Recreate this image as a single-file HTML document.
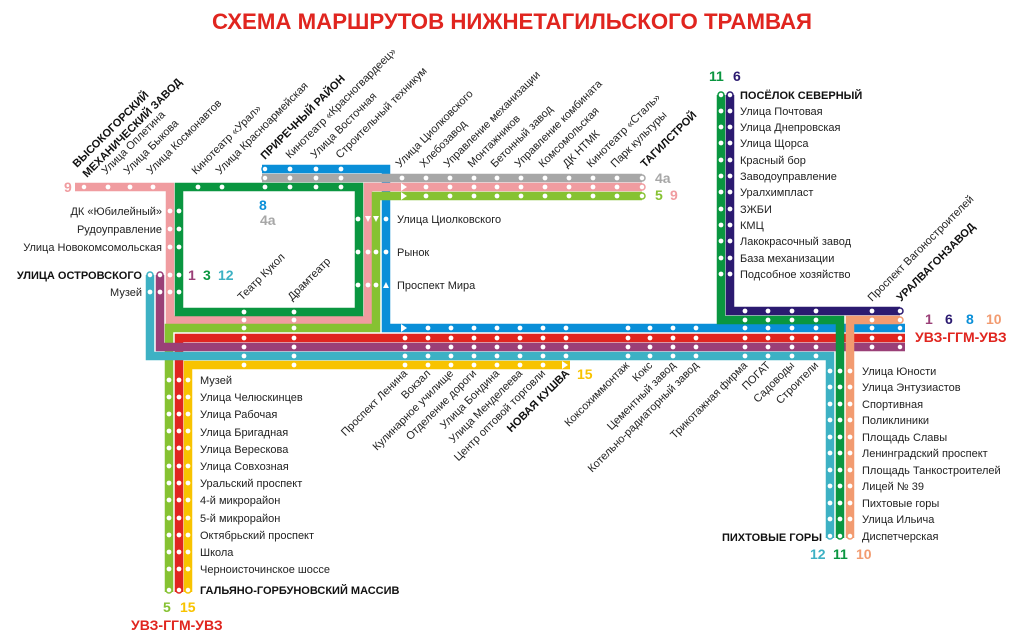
<!DOCTYPE html>
<html><head><meta charset="utf-8"><style>
html,body{margin:0;padding:0;background:#fff;}
svg{display:block;font-family:"Liberation Sans",Arial,sans-serif;}
.t{font-size:11px;fill:#222;}
.b{font-size:11px;font-weight:bold;fill:#111;}
.n{font-size:14px;font-weight:bold;}
</style></head><body>
<svg id="s" width="1023" height="640" viewBox="0 0 1023 640" xmlns="http://www.w3.org/2000/svg">
<rect width="1023" height="640" fill="#fff"/>
<text x="512" y="29" text-anchor="middle" font-size="22" font-weight="bold" fill="#e0251f" textLength="600" lengthAdjust="spacingAndGlyphs">СХЕМА МАРШРУТОВ НИЖНЕТАГИЛЬСКОГО ТРАМВАЯ</text>
<g fill="none" stroke-width="8.5" stroke-linejoin="miter">
<path d="M262,169 H386 V328 H905" stroke="#0a8fd8"/>
<path d="M262,178 H642" stroke="#a7a7a7"/>
<path d="M75,187 H170 V320 H368 V187 H642" stroke="#f09ca0"/>
<path d="M179,187 H359 V312 H179 Z" stroke="#0a9640"/>
<path d="M169,592 V328 H376 V196 H642" stroke="#86c232"/>
<path d="M179,592 V338 H905" stroke="#e0251f"/>
<path d="M160,275 V347 H905" stroke="#9a3f77"/>
<path d="M150,275 V356 H830 V538" stroke="#3db1c4"/>
<path d="M188,592 V365 H570" stroke="#f8c300"/>
<path d="M730,95 V311 H900" stroke="#2b1a70"/>
<path d="M850,538 V320 H900" stroke="#f29b70"/>
<path d="M721,95 V320 H840 V538" stroke="#0a9640"/>
</g>
<g id="dots" fill="#fff"></g>
<g fill="#fff">
<path d="M401,183 l6,4 l-6,4z"/><path d="M401,192 l6,4 l-6,4z"/>
<path d="M401,324 l6,4 l-6,4z"/><path d="M562,361 l6,4 l-6,4z"/>
<path d="M365,216 l6,0 l-3,6z"/><path d="M373,216 l6,0 l-3,6z"/>
<path d="M383,288 l6,0 l-3,-6z"/>
</g>
<g class="t">
<text class="b" transform="translate(77,168) rotate(-45)">ВЫСОКОГОРСКИЙ</text>
<text class="b" transform="translate(87,178) rotate(-45)">МЕХАНИЧЕСКИЙ ЗАВОД</text>
<text transform="translate(106,175) rotate(-45)">Улица Оплетина</text>
<text transform="translate(128,175) rotate(-45)">Улица Быкова</text>
<text transform="translate(151,175) rotate(-45)">Улица Космонавтов</text>
<text transform="translate(196,175) rotate(-45)">Кинотеатр «Урал»</text>
<text transform="translate(220,175) rotate(-45)">Улица Красноармейская</text>
<text class="b" transform="translate(265,160) rotate(-45)">ПРИРЕЧНЫЙ РАЙОН</text>
<text transform="translate(290,159) rotate(-45)">Кинотеатр «Красногвардеец»</text>
<text transform="translate(315,159) rotate(-45)">Улица Восточная</text>
<text transform="translate(340,159) rotate(-45)">Строительный техникум</text>
<text transform="translate(400,168) rotate(-45)">Улица Циолковского</text>
<text transform="translate(424,168) rotate(-45)">Хлебозавод</text>
<text transform="translate(448,168) rotate(-45)">Управление механизации</text>
<text transform="translate(472,168) rotate(-45)">Монтажников</text>
<text transform="translate(495,168) rotate(-45)">Бетонный завод</text>
<text transform="translate(519,168) rotate(-45)">Управление комбината</text>
<text transform="translate(543,168) rotate(-45)">Комсомольская</text>
<text transform="translate(567,168) rotate(-45)">ДК НТМК</text>
<text transform="translate(591,168) rotate(-45)">Кинотеатр «Сталь»</text>
<text transform="translate(615,168) rotate(-45)">Парк культуры</text>
<text class="b" transform="translate(645,168) rotate(-45)">ТАГИЛСТРОЙ</text>
<text transform="translate(872,302) rotate(-45)">Проспект Вагоностроителей</text>
<text class="b" transform="translate(901,302) rotate(-45)">УРАЛВАГОНЗАВОД</text>
<text transform="translate(242,301) rotate(-45)">Театр Кукол</text>
<text transform="translate(292,301) rotate(-45)">Драмтеатр</text>
</g>
<g class="t" text-anchor="end">
<text transform="translate(408,374) rotate(-45)">Проспект Ленина</text>
<text transform="translate(431,374) rotate(-45)">Вокзал</text>
<text transform="translate(454,374) rotate(-45)">Кулинарное училище</text>
<text transform="translate(477,374) rotate(-45)">Отделение дороги</text>
<text transform="translate(500,374) rotate(-45)">Улица Бондина</text>
<text transform="translate(523,374) rotate(-45)">Улица Менделеева</text>
<text transform="translate(546,374) rotate(-45)">Центр оптовой торговли</text>
<text class="b" transform="translate(570,374) rotate(-45)">НОВАЯ КУШВА</text>
<text transform="translate(630,366) rotate(-45)">Коксохиммонтаж</text>
<text transform="translate(653,366) rotate(-45)">Кокс</text>
<text transform="translate(676,366) rotate(-45)">Цементный завод</text>
<text transform="translate(699,366) rotate(-45)">Котельно-радиаторный завод</text>
<text transform="translate(748,366) rotate(-45)">Трикотажная фирма</text>
<text transform="translate(771,366) rotate(-45)">ПОГАТ</text>
<text transform="translate(795,366) rotate(-45)">Садоводы</text>
<text transform="translate(819,366) rotate(-45)">Строители</text>
</g>
<g class="t" text-anchor="end">
<text x="162" y="215">ДК «Юбилейный»</text>
<text x="162" y="233">Рудоуправление</text>
<text x="162" y="251">Улица Новокомсомольская</text>
<text class="b" x="142" y="279">УЛИЦА ОСТРОВСКОГО</text>
<text x="142" y="296">Музей</text>
<text class="b" x="822" y="541">ПИХТОВЫЕ ГОРЫ</text>
</g>
<g class="t">
<text x="397" y="223">Улица Циолковского</text>
<text x="397" y="256">Рынок</text>
<text x="397" y="289">Проспект Мира</text>
<text class="b" x="740" y="99">ПОСЁЛОК СЕВЕРНЫЙ</text>
<text x="740" y="115">Улица Почтовая</text>
<text x="740" y="131">Улица Днепровская</text>
<text x="740" y="147">Улица Щорса</text>
<text x="740" y="164">Красный бор</text>
<text x="740" y="180">Заводоуправление</text>
<text x="740" y="196">Уралхимпласт</text>
<text x="740" y="213">ЗЖБИ</text>
<text x="740" y="229">КМЦ</text>
<text x="740" y="245">Лакокрасочный завод</text>
<text x="740" y="262">База механизации</text>
<text x="740" y="278">Подсобное хозяйство</text>
<text x="862" y="375">Улица Юности</text>
<text x="862" y="391">Улица Энтузиастов</text>
<text x="862" y="408">Спортивная</text>
<text x="862" y="424">Поликлиники</text>
<text x="862" y="441">Площадь Славы</text>
<text x="862" y="457">Ленинградский проспект</text>
<text x="862" y="474">Площадь Танкостроителей</text>
<text x="862" y="490">Лицей № 39</text>
<text x="862" y="507">Пихтовые горы</text>
<text x="862" y="523">Улица Ильича</text>
<text x="862" y="540">Диспетчерская</text>
<text x="200" y="384">Музей</text>
<text x="200" y="401">Улица Челюскинцев</text>
<text x="200" y="418">Улица Рабочая</text>
<text x="200" y="436">Улица Бригадная</text>
<text x="200" y="453">Улица Верескова</text>
<text x="200" y="470">Улица Совхозная</text>
<text x="200" y="487">Уральский проспект</text>
<text x="200" y="504">4-й микрорайон</text>
<text x="200" y="522">5-й микрорайон</text>
<text x="200" y="539">Октябрьский проспект</text>
<text x="200" y="556">Школа</text>
<text x="200" y="573">Черноисточинское шоссе</text>
<text class="b" x="200" y="594">ГАЛЬЯНО-ГОРБУНОВСКИЙ МАССИВ</text>
</g>
<g class="n">
<text x="64" y="192" fill="#f09ca0">9</text>
<text x="259" y="210" fill="#0a8fd8">8</text>
<text x="260" y="225" fill="#a7a7a7">4а</text>
<text x="188" y="280" fill="#9a3f77">1</text>
<text x="203" y="280" fill="#0a9640">3</text>
<text x="218" y="280" fill="#3db1c4">12</text>
<text x="655" y="183" fill="#a7a7a7">4а</text>
<text x="655" y="200" fill="#86c232">5</text>
<text x="670" y="200" fill="#f09ca0">9</text>
<text x="577" y="379" fill="#f8c300">15</text>
<text x="709" y="81" fill="#0a9640">11</text>
<text x="733" y="81" fill="#2b1a70">6</text>
<text x="925" y="324" fill="#9a3f77">1</text>
<text x="945" y="324" fill="#2b1a70">6</text>
<text x="966" y="324" fill="#0a8fd8">8</text>
<text x="986" y="324" fill="#f29b70">10</text>
<text x="915" y="342" fill="#e0251f">УВЗ-ГГМ-УВЗ</text>
<text x="810" y="559" fill="#3db1c4">12</text>
<text x="833" y="559" fill="#0a9640">11</text>
<text x="856" y="559" fill="#f29b70">10</text>
<text x="163" y="612" fill="#86c232">5</text>
<text x="180" y="612" fill="#f8c300">15</text>
<text x="131" y="630" fill="#e0251f">УВЗ-ГГМ-УВЗ</text>
</g>
<script>
(function(){
var g=document.getElementById('dots'),ns='http://www.w3.org/2000/svg';
function d(x,y,o,c){var e=document.createElementNS(ns,'circle');e.setAttribute('cx',x);e.setAttribute('cy',y);e.setAttribute('r',o?3:2.4);if(o){e.setAttribute('stroke',c);e.setAttribute('stroke-width','1.5');}g.appendChild(e);}
d(84,187,1,'#f09ca0');[108,130,153].forEach(function(x){d(x,187)});
[198,222,265,290,316,341].forEach(function(x){d(x,187)});
[290,316,341].forEach(function(x){d(x,169);d(x,178)});d(265,169,1,'#0a8fd8');d(265,178,1,'#a7a7a7');
var tx=[402,426,450,474,497,521,545,569,593,617];
tx.forEach(function(x,i){d(x,178);if(i>0){d(x,187);d(x,196);}});
d(642,178,1,'#a7a7a7');d(642,187,1,'#f09ca0');d(642,196,1,'#86c232');
[211,229,247,275,292].forEach(function(y){d(170,y);d(179,y);});
d(150,275,1,'#3db1c4');d(160,275,1,'#9a3f77');d(150,292);d(160,292);
d(358,219);d(386,219);[358,368,376,386].forEach(function(x){d(x,252)});[358,368,376].forEach(function(x){d(x,285)});
[244,294].forEach(function(x){[312,320,328,338,347,356,365].forEach(function(y){d(x,y)})});
[428,451,474,497,520,543].forEach(function(x){[328,338,347,356,365].forEach(function(y){d(x,y)})});
[338,347,356,365].forEach(function(y){d(405,y)});[328,338,347,356].forEach(function(y){d(566,y)});
[628,650,673,696].forEach(function(x){[328,338,347,356].forEach(function(y){d(x,y)})});
[745,768,792,816].forEach(function(x){[311,320,328,338,347,356].forEach(function(y){d(x,y)})});
[311,320,328,338,347].forEach(function(y){d(872,y)});
d(900,311,1,'#2b1a70');d(900,320,1,'#f29b70');d(900,328,1,'#0a8fd8');d(900,338,1,'#e0251f');d(900,347,1,'#9a3f77');
d(721,95,1,'#0a9640');d(730,95,1,'#2b1a70');
[111,127,143,160,176,192,209,225,241,258,274].forEach(function(y){d(721,y);d(730,y)});
[371,387,404,420,437,453,470,486,503,519].forEach(function(y){d(830,y);d(840,y);d(850,y)});
d(830,536,1,'#3db1c4');d(840,536,1,'#0a9640');d(850,536,1,'#f29b70');
[380,397,414,431,448,466,483,500,518,535,552,569].forEach(function(y){d(169,y);d(179,y);d(188,y)});
d(169,590,1,'#86c232');d(179,590,1,'#e0251f');d(188,590,1,'#f8c300');
})();
</script>
</svg>
</body></html>
